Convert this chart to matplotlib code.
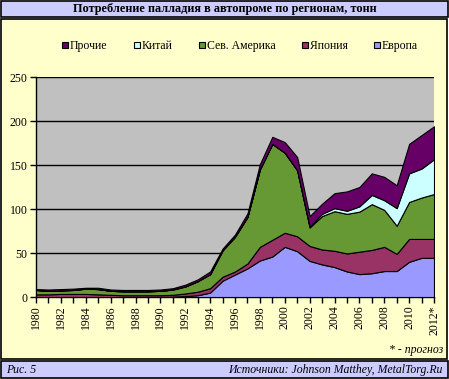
import matplotlib
matplotlib.use('Agg')
import matplotlib.pyplot as plt
from matplotlib.patches import Rectangle
from matplotlib.lines import Line2D
import numpy as np

# palladium demand in autocatalysts by region, tonnes
years = list(range(1980, 2013))
europe = [0, 0, 0, 0, 0, 0, 0, 0, 0, 0, 0, 0.5, 1, 2, 5, 18.5, 25.5, 32.5, 41.5, 46,
          57, 52, 41, 37, 34, 29, 26, 27, 29.5, 29.5, 40, 44.5, 44.5]
japan = [3, 3, 3.5, 3.5, 3.5, 3, 2.5, 2, 2, 2, 2, 2, 3, 4, 5, 4.5, 3.5, 5.5, 15.5, 19,
         16, 17, 17, 17, 18.5, 20.5, 25.5, 26.5, 27.5, 19.5, 26, 21.5, 21.5]
n_america = [5, 4, 4, 4.5, 6, 6, 4.5, 4.5, 4.5, 4.5, 5, 6, 8, 12, 16, 30, 39.5, 53, 88, 109,
             91, 75, 21, 38, 45, 45, 45.5, 52, 42, 32, 42, 47, 51]
china = [0] * 22 + [1, 2.5, 3.5, 3.5, 6, 10.5, 11, 20, 32.5, 33, 39.5]
others = [1, 1.5, 1.5, 1.5, 1, 1.5, 1.5, 1.5, 1.5, 1.5, 1.5, 1.5, 2, 2, 3, 2, 2.5, 4, 6, 8,
          12, 15, 12, 11.5, 17, 22, 22, 24.5, 26.5, 26, 33.5, 38, 37.5]

names = ['Европа', 'Япония', 'Сев. Америка', 'Китай', 'Прочие']
colors = ['#9999FF', '#993366', '#669933', '#CCFFFF', '#660066']

W, H = 449, 379
plt.rcParams['font.family'] = ['Liberation Serif', 'DejaVu Serif']

fig = plt.figure(figsize=(W / 100, H / 100), dpi=100)
fig.patch.set_facecolor('white')

def px_rect(x0, y0, x1, y1, fc):
    # rectangle in pixel coords (origin top-left)
    r = Rectangle((x0 / W, 1 - y1 / H), (x1 - x0) / W, (y1 - y0) / H,
                  transform=fig.transFigure, facecolor=fc, edgecolor='black',
                  linewidth=1.2, zorder=-5)
    fig.patches.append(r)

px_rect(1, 1, 448, 17, '#CCCCFF')
px_rect(1, 19, 447, 359, '#FFFFCC')
px_rect(1, 361, 448, 378, '#CCCCFF')

fig.text(0.5, 1 - 9 / H, 'Потребление палладия в автопроме по регионам, тонн',
         ha='center', va='center', fontsize=8.8, fontweight='bold')
fig.text(6 / W, 1 - 370 / H, 'Рис. 5', ha='left', va='center', fontsize=8.5, style='italic')
fig.text(443 / W, 1 - 370 / H, 'Источники: Johnson Matthey, MetalTorg.Ru',
         ha='right', va='center', fontsize=8.5, style='italic')
fig.text(443 / W, 1 - 350 / H, '* - прогноз', ha='right', va='center',
         fontsize=8.5, style='italic')

# plot area
x0, x1, y0, y1 = 36, 434, 77, 297
ax = fig.add_axes([x0 / W, 1 - y1 / H, (x1 - x0) / W, (y1 - y0) / H])
ax.set_zorder(2)
ax.set_facecolor('#C0C0C0')
ax.stackplot(years, europe, japan, n_america, china, others, colors=colors,
             edgecolor='black', linewidth=0.8, zorder=3)
ax.set_xlim(1980, 2012)
ax.set_ylim(0, 250)
ax.set_yticks(range(0, 251, 50))
ax.yaxis.grid(True, color='black', linewidth=1, zorder=1)
ax.set_axisbelow(True)
ax.set_xticks(years)
ax.set_xticklabels([(str(y) + ('*' if y == 2012 else '')) if (y - 1980) % 2 == 0 else ''
                    for y in years], rotation=90, fontsize=8.5)
ax.tick_params(axis='y', labelsize=8.5, length=4, width=1, pad=2)
ax.tick_params(axis='x', length=4, width=1, pad=2)
for s in ['top', 'right']:
    ax.spines[s].set_visible(False)
for s in ['left', 'bottom']:
    ax.spines[s].set_linewidth(1)

handles = [Line2D([], [], marker='s', linestyle='none', markersize=5,
                  markerfacecolor=c, markeredgecolor='black', markeredgewidth=0.8)
           for c in colors[::-1]]
leg = fig.legend(handles, names[::-1], ncol=5, loc='center',
                 bbox_to_anchor=(240 / W, 1 - 46 / H),
                 frameon=False, fontsize=8.5, handlelength=0.6, handletextpad=0.1,
                 columnspacing=2.2)
leg.set_zorder(3)

fig.savefig('out.png', dpi=100)
